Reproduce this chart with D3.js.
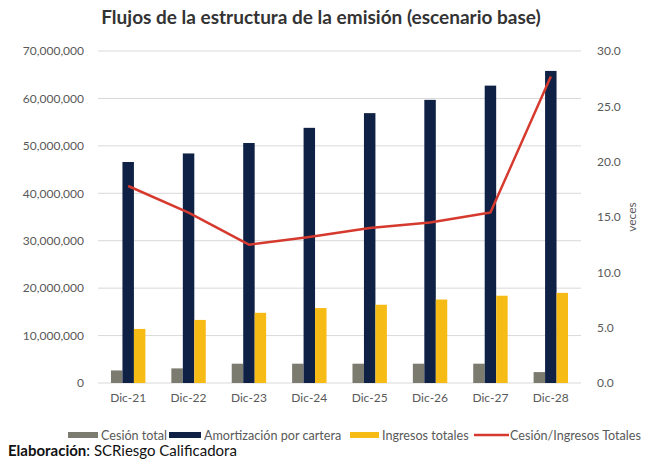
<!DOCTYPE html>
<html>
<head>
<meta charset="utf-8">
<script src="https://cdn.jsdelivr.net/npm/d3@7"></script>
<style>
  body { margin: 0; background: #fff; }
  text { font-family: Lato, "Open Sans", sans-serif; }
</style>
</head>
<body>
<div id="chart"></div>
<script>
// data
let categories = ["Dic-21", "Dic-22", "Dic-23", "Dic-24", "Dic-25", "Dic-26", "Dic-27", "Dic-28"]
let cesionTotal = [2650000, 3080000, 4070000, 4070000, 4070000, 4070000, 4070000, 2300000]
let amortizacion = [46600000, 48400000, 50600000, 53800000, 56900000, 59700000, 62700000, 65800000]
let ingresos = [11400000, 13300000, 14800000, 15800000, 16500000, 17600000, 18400000, 19000000]
let ratio = [17.8, 15.4, 12.5, 13.2, 14.0, 14.5, 15.4, 27.7]
let leftTicks = [0, 10000000, 20000000, 30000000, 40000000, 50000000, 60000000, 70000000]
let rightTicks = [0, 5, 10, 15, 20, 25, 30]

let seriesNames = ["Cesión total", "Amortización por cartera", "Ingresos totales"]
let seriesColors = ["#7b7b70", "#0f2246", "#f7bb15"]
let lineColor = "#d63a2e"

let width = 646, height = 461
let plotLeft = 98, plotRight = 581, plotTop = 51, plotBottom = 383

let svg = d3.select("#chart").append("svg")
    .attr("width", width)
    .attr("height", height)

// scales
let x0 = d3.scaleBand().domain(categories).range([plotLeft, plotRight]).paddingInner(0.43).paddingOuter(0.215)
let x1 = d3.scaleBand().domain(seriesNames).range([0, x0.bandwidth()])
let yL = d3.scaleLinear().domain([0, 70000000]).range([plotBottom, plotTop])
let yR = d3.scaleLinear().domain([0, 30]).range([plotBottom, plotTop])

// gridlines
svg.append("g")
    .selectAll("line")
    .data(leftTicks)
    .enter().append("line")
    .attr("x1", plotLeft).attr("x2", plotRight)
    .attr("y1", d => yL(d)).attr("y2", d => yL(d))
    .attr("stroke", "#d9d9d9")
    .attr("stroke-width", 1)

// left axis
let axL = svg.append("g")
    .attr("transform", "translate(" + plotLeft + ",0)")
    .call(d3.axisLeft(yL).tickValues(leftTicks).tickFormat(d3.format(",")).tickSize(0).tickPadding(14))
axL.select(".domain").remove()
axL.selectAll("text").attr("font-size", 12).attr("fill", "#595959").style("font-family", "Lato, sans-serif")

// right axis
let axR = svg.append("g")
    .attr("transform", "translate(" + plotRight + ",0)")
    .call(d3.axisRight(yR).tickValues(rightTicks).tickFormat(d3.format(".1f")).tickSize(0).tickPadding(16))
axR.select(".domain").remove()
axR.selectAll("text").attr("font-size", 12).attr("fill", "#595959").style("font-family", "Lato, sans-serif")

svg.append("text")
    .attr("transform", "translate(636," + (plotTop + plotBottom) / 2 + ") rotate(-90)")
    .attr("text-anchor", "middle")
    .attr("font-size", 12)
    .attr("fill", "#595959")
    .text("veces")

// x axis labels
let axX = svg.append("g")
    .attr("transform", "translate(0," + plotBottom + ")")
    .call(d3.axisBottom(x0).tickSize(0).tickPadding(10))
axX.select(".domain").remove()
axX.selectAll("text").attr("font-size", 12).attr("fill", "#595959").style("font-family", "Lato, sans-serif")

// bars
let barData = categories.map((c, i) => ({
    cat: c,
    vals: [cesionTotal[i], amortizacion[i], ingresos[i]]
}))

let groups = svg.append("g")
    .selectAll("g")
    .data(barData)
    .enter().append("g")
    .attr("transform", d => "translate(" + x0(d.cat) + ",0)")

groups.selectAll("rect")
    .data(d => d.vals.map((v, j) => ({ name: seriesNames[j], value: v, color: seriesColors[j] })))
    .enter().append("rect")
    .attr("x", d => x1(d.name))
    .attr("width", x1.bandwidth())
    .attr("y", d => yL(d.value))
    .attr("height", d => yL(0) - yL(d.value))
    .attr("fill", d => d.color)

// ratio line
let line = d3.line()
    .x((d, i) => x0(categories[i]) + x0.bandwidth() / 2)
    .y(d => yR(d))

svg.append("path")
    .datum(ratio)
    .attr("d", line)
    .attr("fill", "none")
    .attr("stroke", lineColor)
    .attr("stroke-width", 2.5)
    .attr("stroke-linejoin", "round")

// title
svg.append("text")
    .attr("x", 321)
    .attr("y", 24)
    .attr("text-anchor", "middle")
    .attr("font-size", 19)
    .attr("font-weight", "bold")
    .attr("fill", "#333")
    .text("Flujos de la estructura de la emisión (escenario base)")

// legend
let legendItems = [
    { name: "Cesión total", color: seriesColors[0], x: 68, w: 30, type: "rect" },
    { name: "Amortización por cartera", color: seriesColors[1], x: 169, w: 32, type: "rect" },
    { name: "Ingresos totales", color: seriesColors[2], x: 350, w: 29, type: "rect" },
    { name: "Cesión/Ingresos Totales", color: lineColor, x: 474, w: 35, type: "line" }
]

let legend = svg.append("g")
    .selectAll("g")
    .data(legendItems)
    .enter().append("g")
    .attr("transform", d => "translate(" + d.x + ",435)")

legend.filter(d => d.type === "rect").append("rect")
    .attr("x", 0).attr("y", -3)
    .attr("width", d => d.w).attr("height", 6)
    .attr("fill", d => d.color)

legend.filter(d => d.type === "line").append("line")
    .attr("x1", 0).attr("x2", d => d.w)
    .attr("y1", 0).attr("y2", 0)
    .attr("stroke", d => d.color)
    .attr("stroke-width", 2.5)

legend.append("text")
    .attr("x", d => d.type === "line" ? d.w + 1 : d.w + 3)
    .attr("y", 4.5)
    .attr("font-size", 12.6)
    .attr("fill", "#595959")
    .text(d => d.name)

// footer
let foot = svg.append("text")
    .attr("x", 8)
    .attr("y", 456)
    .attr("font-size", 15)
    .attr("fill", "#111")
foot.append("tspan").attr("font-weight", "bold").text("Elaboración")
foot.append("tspan").text(": SCRiesgo Calificadora")
</script>
</body>
</html>
